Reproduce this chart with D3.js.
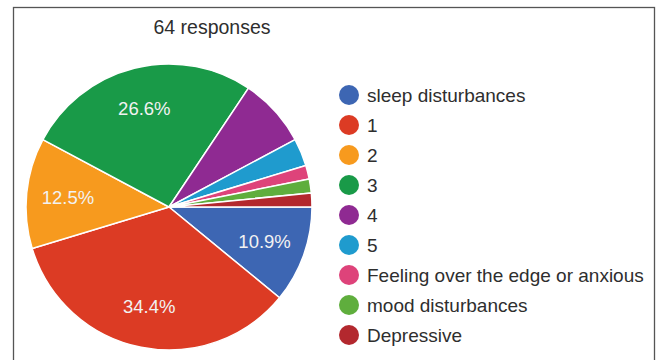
<!DOCTYPE html>
<html>
<head>
<meta charset="utf-8">
<script src="https://cdn.jsdelivr.net/npm/d3@7"></script>
<style>
  html, body { margin: 0; padding: 0; background: #fff; }
  svg { display: block; font-family: "Liberation Sans", Arial, sans-serif; }
</style>
</head>
<body>
<svg id="chart" width="661" height="360"></svg>
<script>
// Survey answers (64 responses)
const categories = ["sleep disturbances", "1", "2", "3", "4", "5",
  "Feeling over the edge or anxious", "mood disturbances", "Depressive"];
const counts = [7, 22, 8, 17, 5, 2, 1, 1, 1];
const colors = ["#3d66b3", "#dc3b24", "#f79a1e", "#199a48", "#8f2a92",
  "#1f9bce", "#de437a", "#5fae3d", "#b3282e"];
const totalResponses = 64;

const svg = d3.select("#chart");
const W = 661, H = 360;

// frame
svg.append("rect")
  .attr("x", 13.5).attr("y", 7.5)
  .attr("width", 641).attr("height", H)
  .attr("fill", "#fff").attr("stroke", "#555").attr("stroke-width", 1.3);

svg.append("text")
  .attr("x", 212).attr("y", 34)
  .attr("text-anchor", "middle")
  .attr("font-size", 19.5).attr("fill", "#2e2e2e")
  .text(`${totalResponses} responses`);

const data = categories.map((c, i) => ({ name: c, value: counts[i], color: colors[i] }));
const total = d3.sum(counts);

const cx = 169, cy = 207, R = 143;
const pie = d3.pie().value(d => d.value).sort(null)
  .startAngle(Math.PI / 2).endAngle(Math.PI / 2 + 2 * Math.PI);
const arc = d3.arc().innerRadius(0).outerRadius(R);
const labelArc = d3.arc().innerRadius(R * 0.71).outerRadius(R * 0.71);

const g = svg.append("g").attr("transform", `translate(${cx},${cy})`);
const arcs = pie(data);

g.selectAll("path.slice").data(arcs).join("path")
  .attr("class", "slice")
  .attr("d", arc)
  .attr("fill", d => d.data.color)
  .attr("stroke", "#fff").attr("stroke-width", 1.5)
  .attr("stroke-linejoin", "round");

const pct = d3.format(".1f");
g.selectAll("text.pct").data(arcs.filter(d => d.data.value / total >= 0.1)).join("text")
  .attr("class", "pct")
  .attr("transform", d => `translate(${labelArc.centroid(d)})`)
  .attr("text-anchor", "middle").attr("dy", "0.36em")
  .attr("font-size", 18.5).attr("fill", "#f2f2f2")
  .text(d => pct(d.data.value / total * 100) + "%");

// legend
const leg = svg.append("g").attr("transform", "translate(349,95)");
const item = leg.selectAll("g").data(data).join("g")
  .attr("transform", (d, i) => `translate(0,${i * 30})`);
item.append("circle").attr("r", 10).attr("fill", d => d.color);
item.append("text")
  .attr("x", 18).attr("dy", "0.36em")
  .attr("font-size", 19).attr("fill", "#2e2e2e")
  .text(d => d.name);
</script>
</body>
</html>
